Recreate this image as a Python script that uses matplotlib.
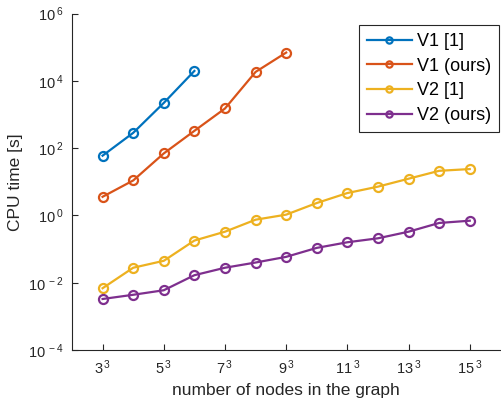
import numpy as np
import matplotlib.pyplot as plt

plt.rcParams['font.family'] = ['Liberation Sans', 'DejaVu Sans']
plt.rcParams['mathtext.default'] = 'regular'

# nodes per side (graph has n^3 nodes)
n_v1_ref = [3, 4, 5, 6]
n_v1_ours = [3, 4, 5, 6, 7, 8, 9]
n_v2 = [3, 4, 5, 6, 7, 8, 9, 10, 11, 12, 13, 14, 15]

# CPU time [s]
t_v1_ref = [60, 286, 2220, 19800]
t_v1_ours = [3.6, 11, 70, 328, 1515, 18500, 69600]
t_v2_ref = [0.0069, 0.028, 0.045, 0.18, 0.33, 0.75, 1.06, 2.35, 4.65, 7.2, 12.4, 21.3, 24]
t_v2_ours = [0.0033, 0.0044, 0.006, 0.0168, 0.028, 0.040, 0.059, 0.109, 0.16, 0.21, 0.33, 0.6, 0.70]

labels = ['V1 [1]', 'V1 (ours)', 'V2 [1]', 'V2 (ours)']
colors = ['#0072BD', '#D95319', '#EDB120', '#7E2F8E']

xticks = [3, 5, 7, 9, 11, 13, 15]
yticks = [1e-4, 1e-2, 1e0, 1e2, 1e4, 1e6]

fig = plt.figure(figsize=(5.01, 4.01), dpi=100)
ax = fig.add_axes([0.1437, 0.127, 0.855, 0.839])

series = [(n_v1_ref, t_v1_ref), (n_v1_ours, t_v1_ours),
          (n_v2, t_v2_ref), (n_v2, t_v2_ours)]
for (x, y), lab, c in zip(series, labels, colors):
    ax.plot(x, y, '-o', color=c, lw=1.6, ms=6.5, mew=1.6,
            mfc='none', label=lab)

ax.set_yscale('log')
ax.set_xlim(2, 16)
ax.set_ylim(1e-4, 1e6)
ax.set_xticks(xticks)
ax.set_xticklabels([f'${k}^{{\\,3}}$' for k in xticks])
ax.set_yticks(yticks)
ax.set_yticklabels([f'$10^{{\\,{int(np.log10(v))}}}$' for v in yticks])
ax.minorticks_off()

gray = '#262626'
for s in ['top', 'right']:
    ax.spines[s].set_visible(False)
for s in ['left', 'bottom']:
    ax.spines[s].set_color(gray)
    ax.spines[s].set_linewidth(0.8)
ax.tick_params(direction='in', length=4, width=0.8, colors=gray,
               labelsize=10.5, pad=6)

ax.set_xlabel('number of nodes in the graph', fontsize=12.5, color=gray)
ax.set_ylabel('CPU time [s]', fontsize=12.5, color=gray)

leg = ax.legend(loc='upper right', bbox_to_anchor=(0.998, 0.966), fontsize=13,
                fancybox=False, framealpha=1, edgecolor=gray,
                handlelength=2.5, handletextpad=0.3, borderpad=0.45,
                labelspacing=0.42, borderaxespad=0)
leg.get_frame().set_linewidth(0.8)
for h in leg.get_lines():
    h.set_markersize(4.5)

fig.savefig('out.png', dpi=100)
